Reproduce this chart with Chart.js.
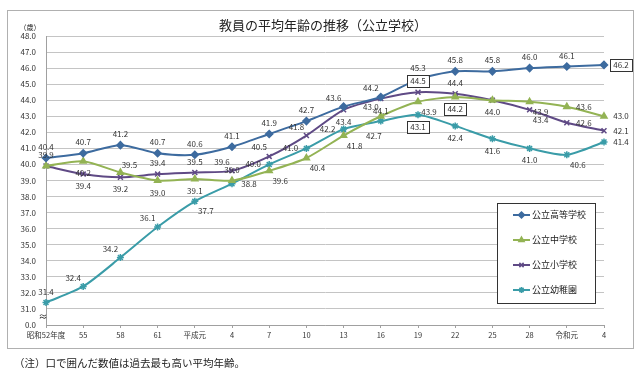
<!DOCTYPE html>
<html>
<head>
<meta charset="utf-8">
<script src="https://cdn.jsdelivr.net/npm/chart.js@4"></script>
<style>
  html, body { margin: 0; padding: 0; background: #fff; }
  #wrap { width: 640px; height: 375px; }
</style>
</head>
<body>
<div id="wrap"><canvas id="myChart" width="640" height="375"></canvas></div>
<script>
// 年度
const years = ['昭和52年度', '55', '58', '61', '平成元', '4', '7', '10', '13', '16', '19', '22', '25', '28', '令和元', '4'];

// 平均年齢（歳）
const koukou = [40.4, 40.7, 41.2, 40.7, 40.6, 41.1, 41.9, 42.7, 43.6, 44.2, 45.3, 45.8, 45.8, 46.0, 46.1, 46.2];
const chuugaku = [39.9, 40.2, 39.5, 39.0, 39.1, 39.0, 39.6, 40.4, 41.8, 43.0, 43.9, 44.2, 44.0, 43.9, 43.6, 43.0];
const shougaku = [39.9, 39.4, 39.2, 39.4, 39.5, 39.6, 40.5, 41.8, 43.4, 44.1, 44.5, 44.4, 44.0, 43.4, 42.6, 42.1];
const youchien = [31.4, 32.4, 34.2, 36.1, 37.7, 38.8, 40.0, 41.0, 42.2, 42.7, 43.1, 42.4, 41.6, 41.0, 40.6, 41.4];

// 過去最高（四角で囲む）の位置
const maxIndex = [15, 11, 10, 10];

// label placement per point (a=above, b=below, r=right, l=left ...), null = not drawn
const labelPos = [
  ['a','a','a','a','a','a','a','a','al','al','a','a','a','a','a','r'],
  [null,'b','ar','b','b','a','br','br','br','al','br','b',null,'br','r','r'],
  ['a','b','b','a','a','al','al','al','b','b','a','a','b','br','r','r'],
  ['a','al','al','al','br','r','l','l','l','bl','b','b','b','b','br','r']
];
const offsets = {
  a: [0, -11], b: [0, 12], r: [17, 0], l: [-16, 0],
  al: [-10, -9], ar: [9, -8], br: [11, 10], bl: [-7, 15]
};

const font = '"Noto Sans CJK JP", "Noto Sans", sans-serif';

const labelPlugin = {
  id: 'pointLabels',
  afterDatasetsDraw(chart) {
    const ctx = chart.ctx;
    ctx.save();
    ctx.font = '8px ' + font;
    ctx.textAlign = 'center';
    ctx.textBaseline = 'middle';
    chart.data.datasets.forEach((ds, di) => {
      const meta = chart.getDatasetMeta(di);
      meta.data.forEach((pt, i) => {
        const pos = labelPos[di][i];
        if (!pos) return;
        const off = offsets[pos];
        const x = pt.x + off[0], y = pt.y + off[1];
        const txt = ds.data[i].toFixed(1);
        if (maxIndex[di] === i) {
          const w = ctx.measureText(txt).width + 6;
          ctx.fillStyle = '#fff';
          ctx.fillRect(x - w / 2, y - 6, w, 12);
          ctx.strokeStyle = '#333';
          ctx.lineWidth = 1;
          ctx.strokeRect(Math.round(x - w / 2) + 0.5, Math.round(y - 6) + 0.5, Math.round(w), 12);
        }
        ctx.fillStyle = '#333';
        ctx.fillText(txt, x, y);
      });
    });
    ctx.restore();
  }
};

const framePlugin = {
  id: 'frame',
  beforeDraw(chart) {
    const ctx = chart.ctx;
    ctx.save();
    ctx.fillStyle = '#fff';
    ctx.fillRect(0, 0, chart.width, chart.height);
    ctx.strokeStyle = '#b0b0b0';
    ctx.lineWidth = 1;
    ctx.strokeRect(7.5, 10.5, 626, 338);
    ctx.restore();
  },
  afterDraw(chart) {
    const ctx = chart.ctx;
    const a = chart.chartArea;
    ctx.save();
    // title
    ctx.fillStyle = '#222';
    ctx.font = '13px ' + font;
    ctx.textAlign = 'center';
    ctx.textBaseline = 'middle';
    ctx.fillText('教員の平均年齢の推移（公立学校）', 323, 25);
    ctx.font = '7px ' + font;
    ctx.fillText('（歳）', 30, 27);
    // axis break mark
    ctx.font = '9px ' + font;
    ctx.fillText('≈', a.left - 3, 317);
    // note
    ctx.textAlign = 'left';
    ctx.font = '10.5px ' + font;
    ctx.fillText('（注）口で囲んだ数値は過去最も高い平均年齢。', 14, 363);

    // legend box
    const bx = 497, by = 203, bw = 98, bh = 100;
    ctx.fillStyle = '#fff';
    ctx.fillRect(bx, by, bw, bh);
    ctx.strokeStyle = '#333';
    ctx.lineWidth = 1;
    ctx.strokeRect(bx + 0.5, by + 0.5, bw, bh);
    chart.data.datasets.forEach((ds, di) => {
      const y = 215 + di * 25;
      ctx.strokeStyle = ds.borderColor;
      ctx.fillStyle = ds.borderColor;
      ctx.lineWidth = 2;
      ctx.beginPath();
      ctx.moveTo(513, y);
      ctx.lineTo(530, y);
      ctx.stroke();
      ctx.lineWidth = 1.5;
      Chart.helpers.drawPoint(ctx, {
        pointStyle: ds.pointStyle, radius: 3, borderWidth: 1.5, rotation: 0
      }, 521.5, y);
      ctx.fillStyle = '#222';
      ctx.font = '9px ' + font;
      ctx.textAlign = 'left';
      ctx.fillText(ds.label, 532, y);
    });
    ctx.restore();
  }
};

function series(label, data, color, style) {
  return {
    label: label,
    data: data,
    borderColor: color,
    backgroundColor: color,
    pointBorderColor: color,
    pointBackgroundColor: color,
    pointStyle: style,
    pointRadius: 3.5,
    pointBorderWidth: 1.5,
    borderWidth: 2,
    tension: 0.25,
    fill: false
  };
}

const data = {
  labels: years,
  datasets: [
    series('公立高等学校', koukou, '#3d6b9f', 'rectRot'),
    series('公立中学校', chuugaku, '#93b354', 'triangle'),
    series('公立小学校', shougaku, '#5f4a85', 'crossRot'),
    series('公立幼稚園', youchien, '#3a9ca8', 'star')
  ]
};

const config = {
  type: 'line',
  data: data,
  options: {
    responsive: false,
    animation: false,
    layout: { padding: { left: 0, top: 36, right: 36, bottom: 27 } },
    plugins: {
      legend: { display: false },
      tooltip: { enabled: false }
    },
    scales: {
      x: {
        offset: false,
        grid: { drawOnChartArea: false, drawTicks: true, tickLength: 3, color: '#a0a0a0' },
        border: { color: '#a0a0a0' },
        ticks: { font: { family: font, size: 7.5 }, color: '#333', padding: 3, maxRotation: 0, autoSkip: false },
        afterFit(scale) { scale.height = 23; }
      },
      y: {
        min: 30,
        max: 48,
        grid: { color: '#c4c4c4', drawTicks: false },
        border: { color: '#a0a0a0' },
        ticks: {
          stepSize: 1,
          padding: 10,
          font: { family: font, size: 8 },
          color: '#333',
          callback: v => v === 30 ? '0.0' : v.toFixed(1)
        },
        afterFit(scale) { scale.width = 46; }
      }
    }
  },
  plugins: [framePlugin, labelPlugin]
};

var myChart = new Chart(document.getElementById('myChart'), config);
</script>
</body>
</html>
